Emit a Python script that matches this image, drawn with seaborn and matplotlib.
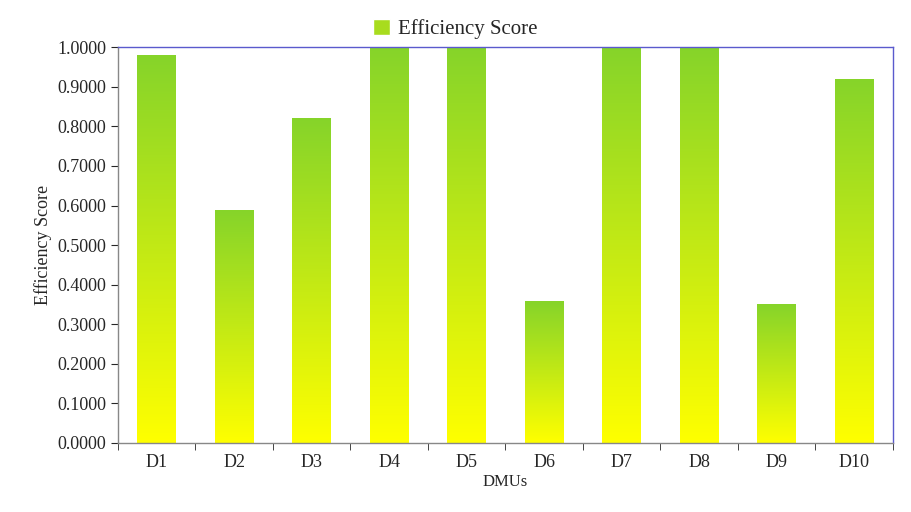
import numpy as np
import pandas as pd
import matplotlib
matplotlib.use("Agg")
import matplotlib.pyplot as plt
import seaborn as sns
from matplotlib.colors import LinearSegmentedColormap
from matplotlib.patches import Patch

dmus = ["D1", "D2", "D3", "D4", "D5", "D6", "D7", "D8", "D9", "D10"]
scores = [0.98, 0.588, 0.82, 1.0, 1.0, 0.358, 1.0, 1.0, 0.35, 0.92]

df = pd.DataFrame({"DMUs": dmus, "Efficiency Score": scores})

sns.set_style("white")
plt.rcParams['font.family'] = ['Liberation Serif', 'DejaVu Serif']

fig = plt.figure(figsize=(9.11, 5.12), dpi=100)
ax = fig.add_axes([0.1295, 0.1348, 0.8505, 0.773])
sns.barplot(data=df, x="DMUs", y="Efficiency Score", width=0.5, color="#9bd82c", ax=ax)

cmap = LinearSegmentedColormap.from_list("gy", ["#ffff00", "#86d42a"])
grad = np.linspace(0, 1, 256).reshape(-1, 1)
for bar in ax.patches:
    x, y = bar.get_x(), bar.get_y()
    w, h = bar.get_width(), bar.get_height()
    bar.set_facecolor("none")
    bar.set_edgecolor("none")
    im = ax.imshow(grad, cmap=cmap, origin="lower", aspect="auto",
                   extent=[x, x + w, y, y + h], zorder=2)
    im.set_clip_path(bar)

ax.set_xlim(-0.5, len(dmus) - 0.5)
ax.set_ylim(0, 1.0)
ax.set_yticks(np.arange(0, 1.01, 0.1))
ax.set_yticklabels([f"{v:.4f}" for v in np.arange(0, 1.01, 0.1)])
ax.set_xticks(range(len(dmus)))
ax.set_xticks(np.arange(-0.5, len(dmus), 1), minor=True)
ax.tick_params(axis="x", which="major", length=0, labelsize=13, pad=8)
ax.tick_params(axis="x", which="minor", length=5, direction="out", bottom=True)
ax.tick_params(axis="y", length=5, direction="out", left=True, labelsize=13)
for s in ax.spines.values():
    s.set_color("#5a5acd")
    s.set_linewidth(1)
ax.spines["left"].set_color("#888888")
ax.spines["bottom"].set_color("#888888")

ax.set_xlabel("DMUs", fontsize=12, labelpad=2)
ax.set_ylabel("Efficiency Score", fontsize=13)

fig.legend(handles=[Patch(facecolor="#a8dc1e", label="Efficiency Score")],
           loc="upper center", bbox_to_anchor=(0.5, 1.0), frameon=False,
           fontsize=15, handlelength=0.8, handleheight=0.8, handletextpad=0.4)

fig.savefig("out.png", dpi=100)
